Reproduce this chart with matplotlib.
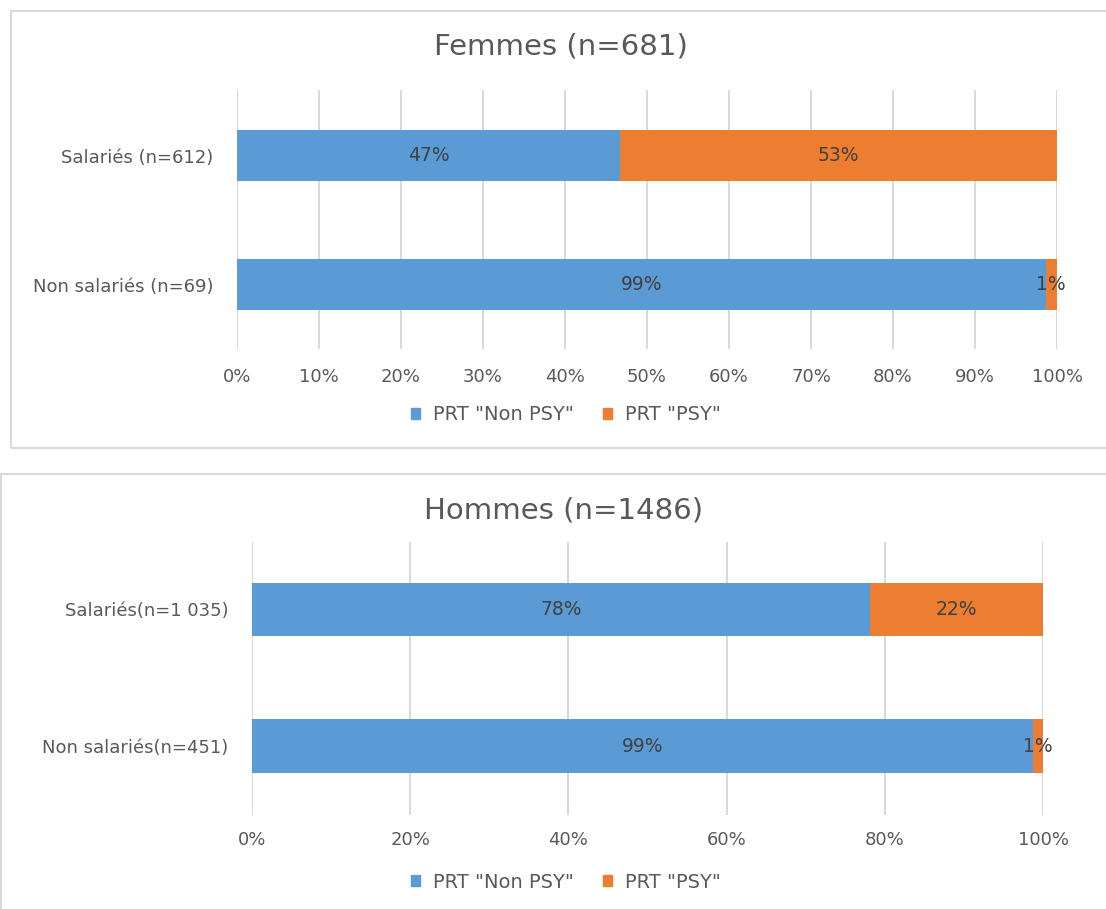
import matplotlib
matplotlib.use("Agg")
import matplotlib.pyplot as plt
import matplotlib.patches as mpatches
import numpy as np

# ── Données ───────────────────────────────────────────────────────────────────
categories_f = ["Non salariés (n=69)", "Salariés (n=612)"]
non_psy_f = [98.6, 46.7]
psy_f = [1.4, 53.3]

categories_h = ["Non salariés(n=451)", "Salariés(n=1 035)"]
non_psy_h = [98.7, 78.1]
psy_h = [1.3, 21.9]

series_labels = ['PRT "Non PSY"', 'PRT "PSY"']

BLEU = "#5B9BD5"
ORANGE = "#ED7D31"
GRIS_TXT = "#595959"
GRIS_GRILLE = "#D9D9D9"

plt.rcParams["font.family"] = ["DejaVu Sans"]

W, H = 1106, 909
fig = plt.figure(figsize=(W / 100, H / 100), dpi=100)


def px_rect(x0, y0, x1, y1):
    """Pixel box (origin top-left) -> figure fraction [left, bottom, width, height]."""
    return [x0 / W, 1 - y1 / H, (x1 - x0) / W, (y1 - y0) / H]


# cadres des deux graphiques
for x0, y0, x1, y1 in [(11, 11, 1120, 448), (1, 474, 1120, 930)]:
    fig.patches.append(mpatches.Rectangle(
        (x0 / W, 1 - y1 / H), (x1 - x0) / W, (y1 - y0) / H,
        transform=fig.transFigure, fill=False, edgecolor="#D9D9D9", linewidth=1.5))


def panneau(rect, cats, v1, v2, titre, ticks, ylim, bar_h, titre_xy, legende_xy, xpad):
    ax = fig.add_axes(rect)
    y = np.arange(len(cats))
    ax.barh(y, v1, height=bar_h, color=BLEU, label=series_labels[0], zorder=2)
    ax.barh(y, v2, left=v1, height=bar_h, color=ORANGE, label=series_labels[1], zorder=2)

    # étiquettes de données au centre de chaque segment
    for i in range(len(cats)):
        ax.text(v1[i] / 2, y[i], f"{round(v1[i])}%", ha="center", va="center",
                fontsize=13.5, color="#404040", zorder=3)
        ax.text(v1[i] + v2[i] / 2, y[i], f"{round(v2[i])}%", ha="center", va="center",
                fontsize=13.5, color="#404040", zorder=3)

    ax.set_xlim(0, 100)
    ax.set_ylim(*ylim)
    ax.set_xticks(ticks)
    ax.set_xticklabels([f"{t}%" for t in ticks])
    ax.set_yticks(y)
    ax.set_yticklabels(cats)
    ax.tick_params(axis="both", length=0, labelsize=13, colors=GRIS_TXT)
    ax.tick_params(axis="y", pad=17)
    ax.tick_params(axis="x", pad=xpad)
    ax.grid(axis="x", color=GRIS_GRILLE, linewidth=1.5, zorder=0)
    for s in ax.spines.values():
        s.set_visible(False)

    fig.text(titre_xy[0] / W, 1 - titre_xy[1] / H, titre, ha="center", va="center",
             fontsize=21, color=GRIS_TXT)
    handles = [mpatches.Patch(color=BLEU, label=series_labels[0]),
               mpatches.Patch(color=ORANGE, label=series_labels[1])]
    fig.legend(handles=handles, loc="center", ncol=2, frameon=False,
               bbox_to_anchor=(legende_xy[0] / W, 1 - legende_xy[1] / H),
               fontsize=14, labelcolor=GRIS_TXT, handlelength=0.46, handleheight=0.46,
               handletextpad=0.65, columnspacing=1.5)
    return ax


# Femmes
panneau(px_rect(237, 90, 1057, 349), categories_f, non_psy_f, psy_f,
        "Femmes (n=681)", list(range(0, 101, 10)), (-0.5, 1.508), 0.40,
        (561, 47), (566, 415), 14)

# Hommes
panneau(px_rect(252, 542, 1043, 815), categories_h, non_psy_h, psy_h,
        "Hommes (n=1486)", list(range(0, 101, 20)), (-0.505, 1.494), 0.39,
        (564, 510), (566, 882), 11.5)

fig.savefig("out.png", dpi=100)
